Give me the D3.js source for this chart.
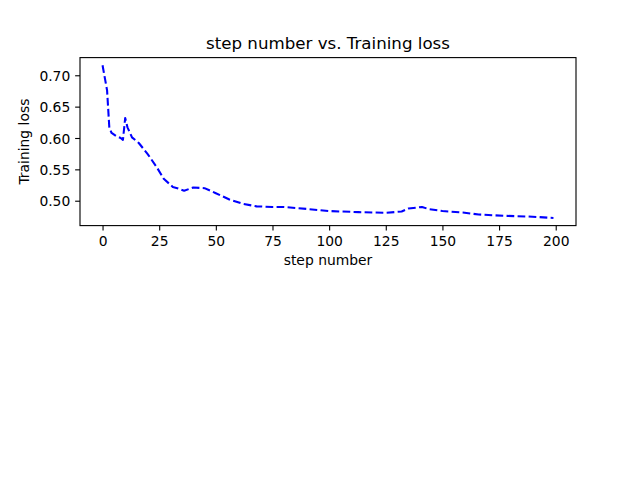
<!DOCTYPE html>
<html>
<head>
<meta charset="utf-8">
<script src="https://cdn.jsdelivr.net/npm/d3@7/dist/d3.min.js"></script>
<style>
  html, body { margin: 0; padding: 0; background: #fff; }
  svg { display: block; }
  text { font-family: "DejaVu Sans", sans-serif; fill: #000; }
</style>
</head>
<body>
<script>
// ---- data ----
const title = "step number vs. Training loss";
const xLabel = "step number";
const yLabel = "Training loss";
const steps = [0, 2, 3, 4, 6, 8, 9, 10, 11, 13, 16, 20, 24, 27, 31, 33, 36, 40, 45, 50,
               56, 62, 68, 75, 80, 90, 100, 113, 125, 132, 135, 141, 144, 150, 159, 166, 177, 188, 199];
const loss = [0.716, 0.676, 0.616, 0.608, 0.603, 0.600, 0.597, 0.632, 0.617, 0.601, 0.592, 0.574,
              0.553, 0.535, 0.522, 0.520, 0.516, 0.521, 0.520, 0.512, 0.502, 0.495, 0.491, 0.490,
              0.490, 0.487, 0.4835, 0.4818, 0.4807, 0.4828, 0.4875, 0.490, 0.4866, 0.4836, 0.4812,
              0.478, 0.476, 0.4748, 0.4725];
const xTicks = [0, 25, 50, 75, 100, 125, 150, 175, 200];
const yTicks = [0.50, 0.55, 0.60, 0.65, 0.70];

// ---- layout ----
const W = 640, H = 480;
const mLeft = 80, mRight = 576, mTop = 57.6, mBottom = 225.6;
const tickLen = 4.86, tickPad = 4.86, fs = 13.89;

const svg = d3.select("body").append("svg").attr("width", W).attr("height", H);

function padded(ext) {
  const m = (ext[1] - ext[0]) * 0.05;
  return [ext[0] - m, ext[1] + m];
}
const x = d3.scaleLinear().domain(padded(d3.extent(steps))).range([mLeft, mRight]);
const y = d3.scaleLinear().domain(padded(d3.extent(loss))).range([mBottom, mTop]);

const data = steps.map((s, i) => ({ s, v: loss[i] }));

// line
const line = d3.line().x(d => x(d.s)).y(d => y(d.v));
svg.append("path")
  .datum(data)
  .attr("d", line)
  .attr("fill", "none")
  .attr("stroke", "#0000ff")
  .attr("stroke-width", 2.08)
  .attr("stroke-dasharray", "7.7,3.33")
  .attr("stroke-linejoin", "round");

// axes
const xAxis = d3.axisBottom(x).tickValues(xTicks).tickFormat(d3.format("d"))
  .tickSize(tickLen).tickPadding(tickPad);
const yAxis = d3.axisLeft(y).tickValues(yTicks).tickFormat(d3.format(".2f"))
  .tickSize(tickLen).tickPadding(tickPad);

const gx = svg.append("g").attr("transform", `translate(0,${mBottom})`).call(xAxis);
const gy = svg.append("g").attr("transform", `translate(${mLeft},0)`).call(yAxis);
[gx, gy].forEach(g => {
  g.select(".domain").remove();
  g.selectAll(".tick line").attr("stroke", "#000").attr("stroke-width", 1.11);
  g.selectAll(".tick text").attr("font-size", fs).attr("font-family", "DejaVu Sans, sans-serif").attr("fill", "#000");
});
gx.selectAll(".tick text").attr("dy", null).attr("y", tickLen + tickPad + fs * 0.76);
gy.selectAll(".tick text").attr("dy", "0.36em");

// frame
svg.append("rect")
  .attr("x", mLeft).attr("y", mTop)
  .attr("width", mRight - mLeft).attr("height", mBottom - mTop)
  .attr("fill", "none").attr("stroke", "#000").attr("stroke-width", 1.11);

// title & labels
svg.append("text").attr("x", (mLeft + mRight) / 2).attr("y", mTop - 8.3)
  .attr("text-anchor", "middle").attr("font-size", 16.67).text(title);
svg.append("text").attr("x", (mLeft + mRight) / 2).attr("y", 264.5)
  .attr("text-anchor", "middle").attr("font-size", fs).text(xLabel);
svg.append("text")
  .attr("transform", `translate(29,${(mTop + mBottom) / 2}) rotate(-90)`)
  .attr("text-anchor", "middle").attr("font-size", fs).text(yLabel);
</script>
</body>
</html>
